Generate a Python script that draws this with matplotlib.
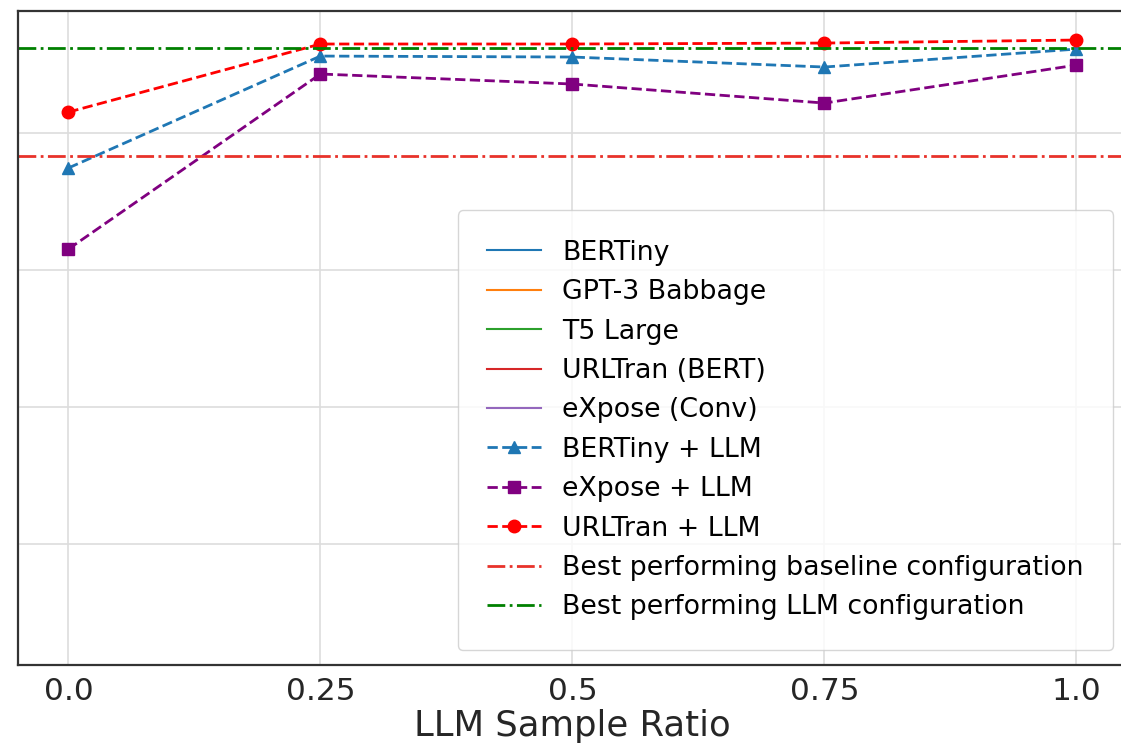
import matplotlib
matplotlib.use("Agg")
import matplotlib.pyplot as plt

# data (y axis labels are cropped in the reference)
ratios = [0.0, 0.25, 0.5, 0.75, 1.0]
tick_labels = ["0.0", "0.25", "0.5", "0.75", "1.0"]

bertiny_llm = [0.97745, 0.98562, 0.98555, 0.98482, 0.98613]
expose_llm = [0.97153, 0.98431, 0.98358, 0.98219, 0.98496]
urltran_llm = [0.98153, 0.98650, 0.98650, 0.98657, 0.98679]

best_baseline = 0.97832
best_llm = 0.98620

baseline_names = ["BERTiny", "GPT-3 Babbage", "T5 Large", "URLTran (BERT)", "eXpose (Conv)"]
baseline_colors = ["tab:blue", "tab:orange", "tab:green", "tab:red", "tab:purple"]

plt.rcParams["font.family"] = ["DejaVu Sans"]

fig = plt.figure(figsize=(11.21, 7.5), dpi=100)
ax = fig.add_axes([18 / 1121, 85 / 750, 1108.8 / 1121, 654 / 750])

# baseline models lie outside the visible range; only their legend entries show
for name, col in zip(baseline_names, baseline_colors):
    ax.plot([], [], color=col, lw=1.5, label=name)

ax.plot(ratios, bertiny_llm, "--", marker="^", color="tab:blue", lw=2, ms=9, label="BERTiny + LLM")
ax.plot(ratios, expose_llm, "--", marker="s", color="purple", lw=2, ms=9, label="eXpose + LLM")
ax.plot(ratios, urltran_llm, "--", marker="o", color="red", lw=2, ms=9, label="URLTran + LLM")
ax.axhline(best_baseline, color="#e8322a", ls="-.", lw=2, label="Best performing baseline configuration")
ax.axhline(best_llm, color="green", ls="-.", lw=2, label="Best performing LLM configuration")

ax.set_xlim(-0.05, 1.05)
ax.set_ylim(0.94117, 0.98891)
ax.set_xticks(ratios)
ax.set_xticklabels(tick_labels)
ax.set_yticks([0.95, 0.96, 0.97, 0.98])
ax.tick_params(axis="both", length=0, labelsize=22.5, labelcolor="#262626", pad=9)
ax.tick_params(axis="y", labelleft=False)
ax.grid(True, color="#dddddd", lw=1.2)
ax.set_axisbelow(True)
for s in ax.spines.values():
    s.set_color("#333333")
    s.set_linewidth(1.6)

ax.set_xlabel("LLM Sample Ratio", fontsize=25.5, color="#262626", labelpad=2)

leg = ax.legend(loc="lower right", bbox_to_anchor=(0.9876, 0.023), borderaxespad=0,
                fontsize=19.3, labelspacing=0.5, frameon=True, borderpad=1.1)
leg.get_frame().set_edgecolor("#cccccc")

fig.savefig("out.png", dpi=100)
